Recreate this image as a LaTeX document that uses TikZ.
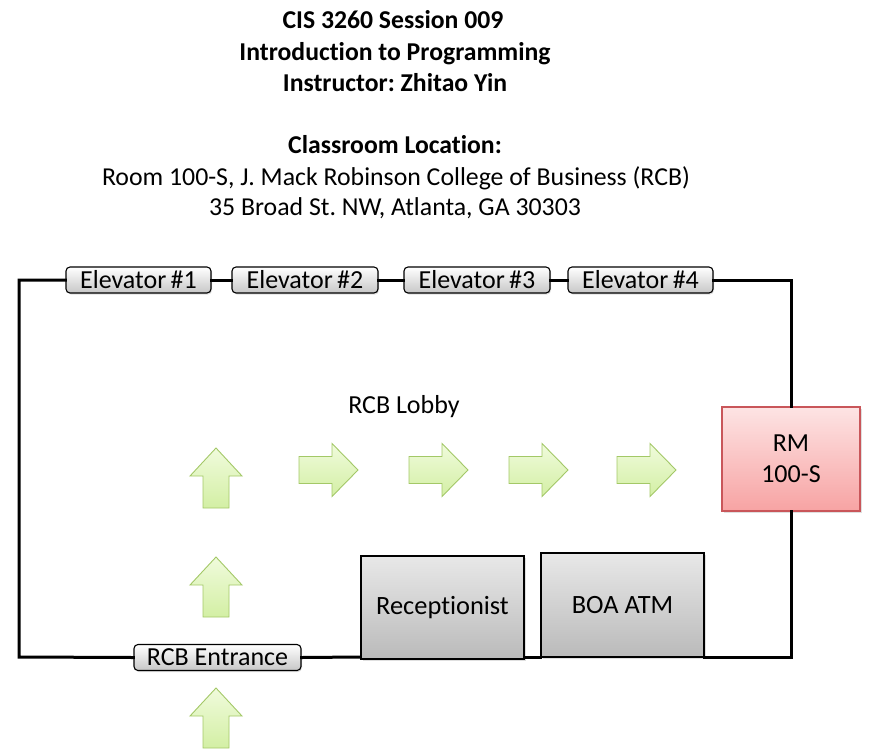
\documentclass[tikz,border=0pt]{standalone}
\usepackage{fontspec}
\setmainfont[Ligatures=NoCommon]{Carlito}
\frenchspacing
\usetikzlibrary{shadows}
\definecolor{arrfill1}{HTML}{F0FBDC}
\definecolor{arrfill2}{HTML}{D3EFA4}
\definecolor{arrline}{HTML}{A3C867}
\definecolor{rmtop}{HTML}{FDE4E4}
\definecolor{rmbot}{HTML}{F7A3A3}
\definecolor{rmline}{HTML}{C9565A}
\tikzset{
  txt/.style={font=\fontsize{26}{31}\selectfont, inner sep=0pt},
  titlebold/.style={font=\fontsize{25.7}{31}\selectfont\bfseries, inner sep=0pt, anchor=base},
  titlereg/.style={font=\fontsize{25.8}{31}\selectfont, inner sep=0pt, anchor=base},
  elev/.style={draw=black, line width=1.1pt, rounded corners=4pt, top color=white, bottom color=black!22,
    minimum height=26pt, inner sep=0pt, font=\fontsize{26}{30}\selectfont,
    drop shadow={opacity=0.25, shadow xshift=1pt, shadow yshift=-1.5pt}},
  graybox/.style={draw=black, line width=1.2pt, top color=black!9, bottom color=black!27,
    inner sep=0pt, font=\fontsize{26.4}{31}\selectfont,
    drop shadow={opacity=0.25, shadow xshift=2pt, shadow yshift=-2pt}},
  rmbox/.style={draw=rmline, line width=1.1pt, top color=rmtop, bottom color=rmbot,
    inner sep=0pt, align=center, font=\fontsize{26}{31}\selectfont,
    drop shadow={opacity=0.25, shadow xshift=2pt, shadow yshift=-2pt}},
  frame/.style={line width=3pt, line cap=rect},
  grarrow/.style={draw=arrline, line width=0.9pt, top color=arrfill1, bottom color=arrfill2, line join=miter},
  uparr/.pic={\path[grarrow] (0,0) -- (26,28) -- (13,28) -- (13,60) -- (-13,60) -- (-13,28) -- (-26,28) -- cycle;},
  rtarr/.pic={\path[grarrow] (0,0) -- (-26,-26.5) -- (-26,-13.5) -- (-59,-13.5) -- (-59,13.5) -- (-26,13.5) -- (-26,26.5) -- cycle;},
}
\begin{document}
\begin{tikzpicture}[x=1pt,y=-1pt]
\useasboundingbox (0,0) rectangle (872,755);
% titles
\node[titlebold] (t1) at (393,28) {CIS 3260 Session 009};
\node[titlebold] (t2) at (395,60) {Introduction to Programming};
\node[titlebold] (t3) at (395,91) {Instructor: Zhitao Yin};
\node[titlebold] (t4) at (395,153) {Classroom Location:};
\node[titlereg] (t5) at (396,185) {Room 100-S, J. Mack Robinson College of Business (RCB)};
\node[titlereg] (t6) at (395,215) {35 Broad St. NW, Atlanta, GA 30303};
% corners
\coordinate (tl) at (19,280);
\coordinate (tr) at (791,280);
\coordinate (br) at (791,657);
\coordinate (bl) at (19,657);
% nodes
\node[elev, minimum width=145pt] (e1) at (138.5,280) {Elevator\,\#1};
\node[elev, minimum width=146pt] (e2) at (305,280) {Elevator\,\#2};
\node[elev, minimum width=146pt] (e3) at (477,280) {Elevator\,\#3};
\node[elev, minimum width=145pt] (e4) at (640.5,280) {Elevator\,\#4};
\node[elev, minimum width=167pt] (ent) at (217.5,657.5) {RCB Entrance};
\node[rmbox, minimum width=138pt, minimum height=104pt] (rm) at (791,459) {RM\\100-S};
\node[graybox, minimum width=163pt, minimum height=103pt] (rec) at (442.5,607.5) {Receptionist};
\node[graybox, minimum width=163pt, minimum height=104pt] (boa) at (622.5,605) {BOA ATM};
\node[txt] (lobby) at (404,407) {RCB Lobby};
% frame segments
\draw[frame] (e1.west) -- (tl) -- (bl) -- (ent.west);
\draw[frame] (e1.east) -- (e2.west);
\draw[frame] (e2.east) -- (e3.west);
\draw[frame] (e3.east) -- (e4.west);
\draw[frame] (e4.east) -- (tr) -- (tr |- rm.north);
\draw[frame] (br |- rm.south) -- (br) -- (boa.east |- br);
\draw[frame] (boa.west |- br) -- (rec.east |- br);
\draw[frame] (rec.west |- br) -- (ent.east);
% arrows
\pic at (216,448) {uparr};
\pic at (216,557) {uparr};
\pic at (216,688) {uparr};
\pic at (358,470) {rtarr};
\pic at (468,470) {rtarr};
\pic at (568,470) {rtarr};
\pic at (676,470) {rtarr};
\end{tikzpicture}
\end{document}
